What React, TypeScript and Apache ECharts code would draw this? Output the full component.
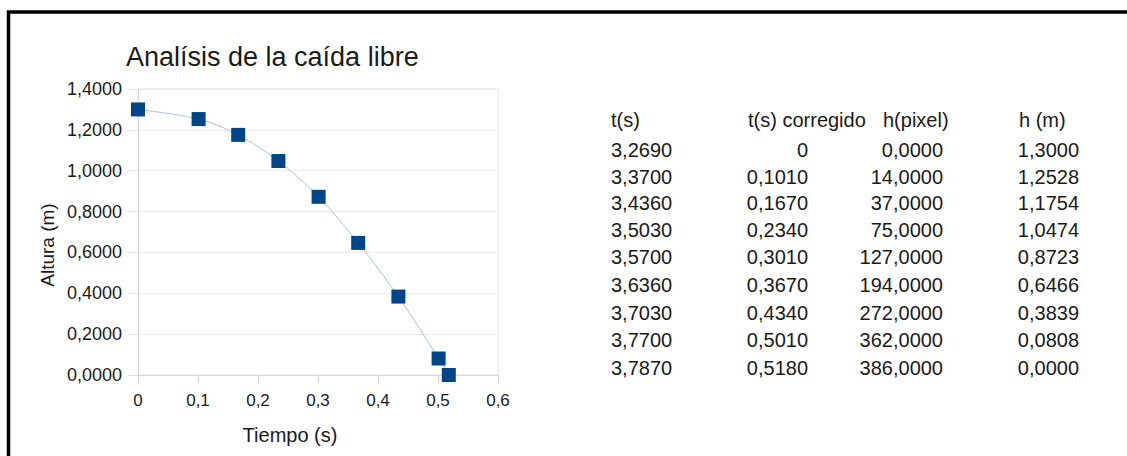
import React, { useEffect, useRef } from "react";
import * as echarts from "echarts";

const title = "Analísis de la caída libre";
const xName = "Tiempo (s)";
const yName = "Altura (m)";
const tableHeaders = ["t(s)", "t(s) corregido", "h(pixel)", "h (m)"];
const tRaw = [3.269, 3.37, 3.436, 3.503, 3.57, 3.636, 3.703, 3.77, 3.787];
const tCorr = [0, 0.101, 0.167, 0.234, 0.301, 0.367, 0.434, 0.501, 0.518];
const hPixel = [0, 14, 37, 75, 127, 194, 272, 362, 386];
const hM = [1.3, 1.2528, 1.1754, 1.0474, 0.8723, 0.6466, 0.3839, 0.0808, 0];

const FONT = "'Liberation Sans', Arial, sans-serif";
const TXT = "#1a1a1a";

const fmt4 = (v: number) => v.toFixed(4).replace(".", ",");
const fmtCorr = (v: number) => (v === 0 ? "0" : fmt4(v));

export default function App() {
  const ref = useRef<HTMLDivElement>(null);
  useEffect(() => {
    if (!ref.current) return;
    const chart = echarts.init(ref.current, null, { renderer: "svg" });

    const graphics: any[] = [
      {
        type: "rect",
        shape: { x: 8.5, y: 12, width: 1300, height: 700 },
        style: { fill: "none", stroke: "#000", lineWidth: 3.5 },
        z: 10,
      },
      {
        type: "text",
        x: 126,
        y: 57,
        style: { text: title, font: `27px ${FONT}`, fill: TXT, textAlign: "left", textVerticalAlign: "middle" },
      },
      {
        type: "text",
        x: 290,
        y: 435,
        style: { text: xName, font: `20px ${FONT}`, fill: TXT, textAlign: "center", textVerticalAlign: "middle" },
      },
      {
        type: "text",
        x: 47,
        y: 245,
        rotation: Math.PI / 2,
        style: { text: yName, font: `19px ${FONT}`, fill: TXT, textAlign: "center", textVerticalAlign: "middle" },
      },
    ];

    const colX = [
      { x: 611, align: "left" },
      { x: 808, align: "right" },
      { x: 943, align: "right" },
      { x: 1079, align: "right" },
    ];
    const headerX = [611, 748, 883, 1019];
    tableHeaders.forEach((h, i) => {
      graphics.push({
        type: "text",
        x: headerX[i],
        y: 120,
        style: { text: h, font: `20px ${FONT}`, fill: TXT, textAlign: "left", textVerticalAlign: "middle" },
      });
    });
    const rowY = [150, 177, 203, 230, 257, 285, 313, 340, 368];
    tRaw.forEach((_, r) => {
      const cells = [fmt4(tRaw[r]), fmtCorr(tCorr[r]), fmt4(hPixel[r]), fmt4(hM[r])];
      cells.forEach((c, i) => {
        graphics.push({
          type: "text",
          x: colX[i].x,
          y: rowY[r],
          style: { text: c, font: `20px ${FONT}`, fill: TXT, textAlign: colX[i].align, textVerticalAlign: "middle" },
        });
      });
    });

    chart.setOption({
      animation: false,
      backgroundColor: "#ffffff",
      textStyle: { fontFamily: FONT },
      grid: {
        left: 138,
        right: 1127 - 498,
        top: 89,
        bottom: 456 - 375,
        show: true,
        borderColor: "#e4e4e4",
        borderWidth: 1,
      },
      xAxis: {
        type: "value",
        min: 0,
        max: 0.6,
        interval: 0.1,
        axisLine: { show: true, onZero: false, lineStyle: { color: "#d9d9d9" } },
        axisTick: { show: true, length: 8, lineStyle: { color: "#cfcfcf" } },
        splitLine: { show: false },
        axisLabel: {
          margin: 17,
          fontSize: 17,
          color: TXT,
          fontFamily: FONT,
          formatter: (v: number) => (v === 0 ? "0" : v.toFixed(1).replace(".", ",")),
        },
      },
      yAxis: {
        type: "value",
        min: 0,
        max: 1.4,
        interval: 0.2,
        axisLine: { show: true, lineStyle: { color: "#d9d9d9" } },
        axisTick: { show: true, length: 9, lineStyle: { color: "#e0e0e0" } },
        splitLine: { show: true, lineStyle: { color: "#ececec" } },
        axisLabel: {
          margin: 16,
          fontSize: 18,
          color: TXT,
          fontFamily: FONT,
          formatter: (v: number) => fmt4(v),
        },
      },
      series: [
        {
          type: "line",
          data: tCorr.map((t, i) => [t, hM[i]]),
          smooth: 0.3,
          symbol: "rect",
          symbolSize: 14,
          itemStyle: { color: "#004586" },
          lineStyle: { color: "#a8c3df", width: 1 },
        },
      ],
      graphic: graphics,
    });
    return () => chart.dispose();
  }, []);
  return <div ref={ref} style={{ position: "fixed", left: 0, top: 0, width: 1127, height: 456 }} />;
}
